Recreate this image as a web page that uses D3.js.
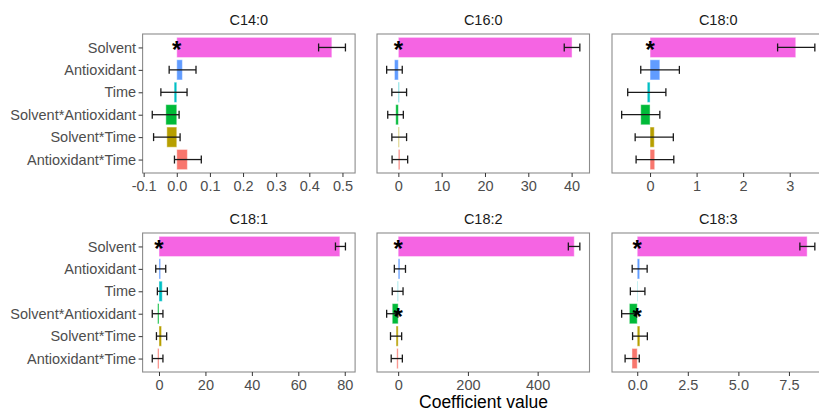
<!DOCTYPE html>
<html>
<head>
<meta charset="utf-8">
<script src="https://cdn.jsdelivr.net/npm/d3@7"></script>
<style>
  body { margin: 0; background: #fff; overflow: hidden; }
  svg { font-family: "Liberation Sans", Arial, sans-serif; }
</style>
</head>
<body>
<svg id="chart" width="819" height="413"></svg>
<script>
// terms, bottom colour order follows ggplot hue palette
var terms = ["Solvent", "Antioxidant", "Time", "Solvent*Antioxidant", "Solvent*Time", "Antioxidant*Time"];
var termColors = ["#F564E3", "#619CFF", "#00BFC4", "#00BA38", "#B79F00", "#F8766D"];

var acids = ["C14:0", "C16:0", "C18:0", "C18:1", "C18:2", "C18:3"];

// coefficient estimates (same order as terms)
var est14 = [0.468, 0.017, -0.008, -0.033, -0.030, 0.032];
var est16 = [40.1, -0.9, 0.2, -0.6, 0.2, 0.35];
var est180 = [3.13, 0.21, -0.06, -0.2, 0.09, 0.1];
var est181 = [77.9, 0.7, 1.4, -0.6, 1.1, -0.6];
var est182 = [505, 5, -1.5, -17, -6, -4];
var est183 = [8.40, 0.12, 0.02, -0.39, 0.13, -0.26];

// lower / upper confidence limits
var lo14 = [0.428, -0.023, -0.048, -0.074, -0.070, -0.007];
var hi14 = [0.509, 0.058, 0.031, 0.007, 0.010, 0.074];
var lo16 = [38.3, -2.7, -1.5, -2.45, -1.5, -1.45];
var hi16 = [41.9, 0.9, 1.9, 1.15, 1.9, 2.15];
var lo180 = [2.74, -0.2, -0.48, -0.61, -0.32, -0.3];
var hi180 = [3.54, 0.63, 0.34, 0.21, 0.5, 0.51];
var lo181 = [76.0, -1.4, -0.7, -2.9, -1.1, -2.9];
var hi181 = [80.3, 2.9, 3.6, 1.7, 3.3, 1.7];
var lo182 = [488, -11, -17, -33, -22, -20];
var hi182 = [521, 21, 14, -1, 10, 12];
var lo183 = [8.04, -0.25, -0.34, -0.77, -0.23, -0.6];
var hi183 = [8.78, 0.49, 0.38, -0.03, 0.5, 0.1];

// significant terms get a star
var sig14 = [true, false, false, false, false, false];
var sig16 = [true, false, false, false, false, false];
var sig180 = [true, false, false, false, false, false];
var sig181 = [true, false, false, false, false, false];
var sig182 = [true, false, false, true, false, false];
var sig183 = [true, false, false, true, false, false];

// x tick values and labels per panel
var ticks14 = [-0.1, 0, 0.1, 0.2, 0.3, 0.4, 0.5];
var labels14 = ["-0.1", "0.0", "0.1", "0.2", "0.3", "0.4", "0.5"];
var ticks16 = [0, 10, 20, 30, 40];
var labels16 = ["0", "10", "20", "30", "40"];
var ticks180 = [0, 1, 2, 3];
var labels180 = ["0", "1", "2", "3"];
var ticks181 = [0, 20, 40, 60, 80];
var labels181 = ["0", "20", "40", "60", "80"];
var ticks182 = [0, 200, 400];
var labels182 = ["0", "200", "400"];
var ticks183 = [0, 2.5, 5, 7.5];
var labels183 = ["0.0", "2.5", "5.0", "7.5"];

var panels = [
    {acid: acids[0], est: est14, lo: lo14, hi: hi14, sig: sig14, ticks: ticks14, labels: labels14},
    {acid: acids[1], est: est16, lo: lo16, hi: hi16, sig: sig16, ticks: ticks16, labels: labels16},
    {acid: acids[2], est: est180, lo: lo180, hi: hi180, sig: sig180, ticks: ticks180, labels: labels180},
    {acid: acids[3], est: est181, lo: lo181, hi: hi181, sig: sig181, ticks: ticks181, labels: labels181},
    {acid: acids[4], est: est182, lo: lo182, hi: hi182, sig: sig182, ticks: ticks182, labels: labels182},
    {acid: acids[5], est: est183, lo: lo183, hi: hi183, sig: sig183, ticks: ticks183, labels: labels183}
];

// Dimensions
var colLeft = [142.6, 377, 612];
var rowTop = [34, 233];
var pw = 212.5;
var ph = 139;

var svg = d3.select("#chart");

var y = d3.scalePoint()
    .domain(terms)
    .range([0, ph])
    .padding(0.6);
var step = y.step();

panels.forEach(function(p, i) {
    var col = i % 3, row = Math.floor(i / 3);

    var lo = d3.min(p.lo.concat([0]));
    var hi = d3.max(p.hi.concat([0]));
    var pad = (hi - lo) * 0.05;
    var x = d3.scaleLinear().domain([lo - pad, hi + pad]).range([0, pw]);

    var g = svg.append("g")
        .attr("transform", "translate(" + colLeft[col] + "," + rowTop[row] + ")");

    // strip title
    g.append("text")
        .attr("x", pw / 2)
        .attr("y", -9)
        .attr("text-anchor", "middle")
        .attr("font-size", 14.5)
        .attr("fill", "#1a1a1a")
        .text(p.acid);

    // bars
    g.append("g").selectAll("rect")
        .data(terms)
        .enter()
        .append("rect")
        .attr("x", function(d, j) { return x(Math.min(0, p.est[j])); })
        .attr("width", function(d, j) { return Math.abs(x(p.est[j]) - x(0)); })
        .attr("y", function(d) { return y(d) - step * 0.45; })
        .attr("height", step * 0.9)
        .attr("fill", function(d, j) { return termColors[j]; })
        .attr("stroke", "#fff")
        .attr("stroke-opacity", 0.45)
        .attr("stroke-width", 1);

    // error bars
    var eb = g.append("g").selectAll("g")
        .data(terms)
        .enter()
        .append("g")
        .attr("stroke", "#1a1a1a")
        .attr("stroke-width", 1.3);
    eb.append("line")
        .attr("x1", function(d, j) { return x(p.lo[j]); })
        .attr("x2", function(d, j) { return x(p.hi[j]); })
        .attr("y1", function(d) { return y(d); })
        .attr("y2", function(d) { return y(d); });
    eb.append("line")
        .attr("x1", function(d, j) { return x(p.lo[j]); })
        .attr("x2", function(d, j) { return x(p.lo[j]); })
        .attr("y1", function(d) { return y(d) - 4; })
        .attr("y2", function(d) { return y(d) + 4; });
    eb.append("line")
        .attr("x1", function(d, j) { return x(p.hi[j]); })
        .attr("x2", function(d, j) { return x(p.hi[j]); })
        .attr("y1", function(d) { return y(d) - 4; })
        .attr("y2", function(d) { return y(d) + 4; });

    // significance stars
    g.append("g").selectAll("text")
        .data(terms.filter(function(d, j) { return p.sig[j]; }))
        .enter()
        .append("text")
        .attr("x", x(0))
        .attr("y", function(d) { return y(d) + 11; })
        .attr("text-anchor", "middle")
        .attr("font-size", 24)
        .attr("font-weight", "bold")
        .attr("fill", "#000")
        .text("*");

    // panel border
    g.append("rect")
        .attr("width", pw)
        .attr("height", ph)
        .attr("fill", "none")
        .attr("stroke", "#8c8c8c")
        .attr("stroke-width", 1.1);

    // x axis
    var xAxis = g.append("g")
        .attr("transform", "translate(0," + ph + ")")
        .call(d3.axisBottom(x)
            .tickValues(p.ticks)
            .tickFormat(function(d, k) { return p.labels[k]; })
            .tickSize(4)
            .tickSizeOuter(0));
    xAxis.select(".domain").remove();
    xAxis.selectAll("line").attr("stroke", "#333");
    xAxis.selectAll("text")
        .attr("font-size", 14.5)
        .attr("fill", "#4d4d4d")
        .attr("y", 6)
        .attr("dy", "0.8em")
        .attr("font-family", null);

    // y axis on the left column only
    if (col === 0) {
        var yAxis = g.append("g")
            .call(d3.axisLeft(y).tickSize(4).tickSizeOuter(0));
        yAxis.select(".domain").remove();
        yAxis.selectAll("line").attr("stroke", "#333");
        yAxis.selectAll("text")
            .attr("font-size", 14.5)
            .attr("fill", "#4d4d4d")
            .attr("x", -6.5)
            .attr("font-family", null);
    }
});

// x axis title
svg.append("text")
    .attr("x", (colLeft[0] + colLeft[2] + pw) / 2)
    .attr("y", 408)
    .attr("text-anchor", "middle")
    .attr("font-size", 17.5)
    .attr("fill", "#000")
    .text("Coefficient value");
</script>
</body>
</html>
